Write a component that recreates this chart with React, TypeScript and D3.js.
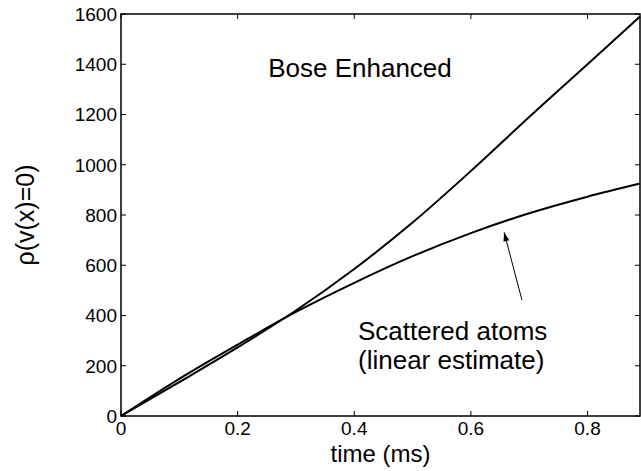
import { useEffect, useRef } from 'react';
import * as d3 from 'd3';

// values
const times = [0, 0.1, 0.2, 0.3, 0.4, 0.5, 0.6, 0.7, 0.8, 0.89];
const bose = [0, 135, 273, 420, 585, 770, 975, 1190, 1400, 1590];
const scattered = [0, 148, 284, 414, 530, 636, 728, 807, 873, 925];
const xTicks = [0, 0.2, 0.4, 0.6, 0.8];
const yTicks = [0, 200, 400, 600, 800, 1000, 1200, 1400, 1600];
const arrowFrom = [0.6875, 462];
const arrowTo = [0.657, 731];

const W = 641;
const H = 471;
const FONT = "'Liberation Sans', Arial, Helvetica, sans-serif";

export default function App() {
  const svgRef = useRef<SVGSVGElement>(null);

  useEffect(() => {
    if (!svgRef.current) return;
    const root = d3.select(svgRef.current);
    root.selectAll('*').remove();

    const margin = { top: 14, right: 1, bottom: 55, left: 121 };
    const width = W - margin.left - margin.right;
    const height = H - margin.top - margin.bottom;

    const svg = root.append('g').attr('transform', `translate(${margin.left},${margin.top})`);

    const x = d3.scaleLinear().domain([0, 0.89]).range([0, width]);
    const y = d3.scaleLinear().domain([0, 1600]).range([height, 0]);
    const tick = 5;

    // frame
    svg
      .append('rect')
      .attr('width', width)
      .attr('height', height)
      .attr('fill', 'none')
      .attr('stroke', '#000')
      .attr('stroke-width', 1.5);

    // inward ticks, all four sides
    const tg = svg.append('g').attr('stroke', '#000').attr('stroke-width', 1);
    xTicks.forEach(t => {
      tg.append('line').attr('x1', x(t)).attr('x2', x(t)).attr('y1', height).attr('y2', height - tick);
      tg.append('line').attr('x1', x(t)).attr('x2', x(t)).attr('y1', 0).attr('y2', tick);
    });
    yTicks.forEach(t => {
      tg.append('line').attr('x1', 0).attr('x2', tick).attr('y1', y(t)).attr('y2', y(t));
      tg.append('line').attr('x1', width).attr('x2', width - tick).attr('y1', y(t)).attr('y2', y(t));
    });

    // tick labels
    svg
      .selectAll('.xl')
      .data(xTicks)
      .enter()
      .append('text')
      .attr('x', d => x(d))
      .attr('y', height + 19)
      .attr('text-anchor', 'middle')
      .style('font', `19px ${FONT}`)
      .text(d => String(d));

    svg
      .selectAll('.yl')
      .data(yTicks)
      .enter()
      .append('text')
      .attr('x', -4)
      .attr('y', d => y(d))
      .attr('dy', '0.36em')
      .attr('text-anchor', 'end')
      .style('font', `19px ${FONT}`)
      .text(d => String(d));

    // axis labels
    svg
      .append('text')
      .attr('x', width / 2)
      .attr('y', height + 46)
      .attr('text-anchor', 'middle')
      .style('font', `24px ${FONT}`)
      .text('time (ms)');

    svg
      .append('text')
      .attr('transform', `translate(${34 - margin.left},${height / 2}) rotate(-90)`)
      .attr('text-anchor', 'middle')
      .style('font', `25px ${FONT}`)
      .text('ρ(v(x)=0)');

    // curves
    const line = d3
      .line<number>()
      .x((d, i) => x(times[i]))
      .y(d => y(d))
      .curve(d3.curveCatmullRom);

    [bose, scattered].forEach(s => {
      svg
        .append('path')
        .datum(s)
        .attr('d', line)
        .attr('fill', 'none')
        .attr('stroke', '#000')
        .attr('stroke-width', 2);
    });

    // annotations
    svg
      .append('text')
      .attr('x', 360 - margin.left)
      .attr('y', 77 - margin.top)
      .attr('text-anchor', 'middle')
      .style('font', `26px ${FONT}`)
      .text('Bose Enhanced');

    svg
      .append('text')
      .attr('x', 358 - margin.left)
      .attr('y', 340 - margin.top)
      .style('font', `26px ${FONT}`)
      .text('Scattered atoms');
    svg
      .append('text')
      .attr('x', 358 - margin.left)
      .attr('y', 369 - margin.top)
      .style('font', `26px ${FONT}`)
      .text('(linear estimate)');

    // arrow
    const x1 = x(arrowFrom[0]), y1 = y(arrowFrom[1]);
    const x2 = x(arrowTo[0]), y2 = y(arrowTo[1]);
    svg
      .append('line')
      .attr('x1', x1)
      .attr('y1', y1)
      .attr('x2', x2)
      .attr('y2', y2)
      .attr('stroke', '#000')
      .attr('stroke-width', 1);
    const ang = Math.atan2(y2 - y1, x2 - x1);
    const len = 9, half = 3;
    const bx = x2 - len * Math.cos(ang), by = y2 - len * Math.sin(ang);
    const px = -Math.sin(ang) * half, py = Math.cos(ang) * half;
    svg
      .append('path')
      .attr('d', `M${x2},${y2}L${bx + px},${by + py}L${bx - px},${by - py}Z`)
      .attr('fill', '#000');
  }, []);

  return (
    <div style={{ position: 'fixed', left: 0, top: 0, background: '#fff' }}>
      <svg ref={svgRef} width={W} height={H} style={{ display: 'block' }}></svg>
    </div>
  );
}
